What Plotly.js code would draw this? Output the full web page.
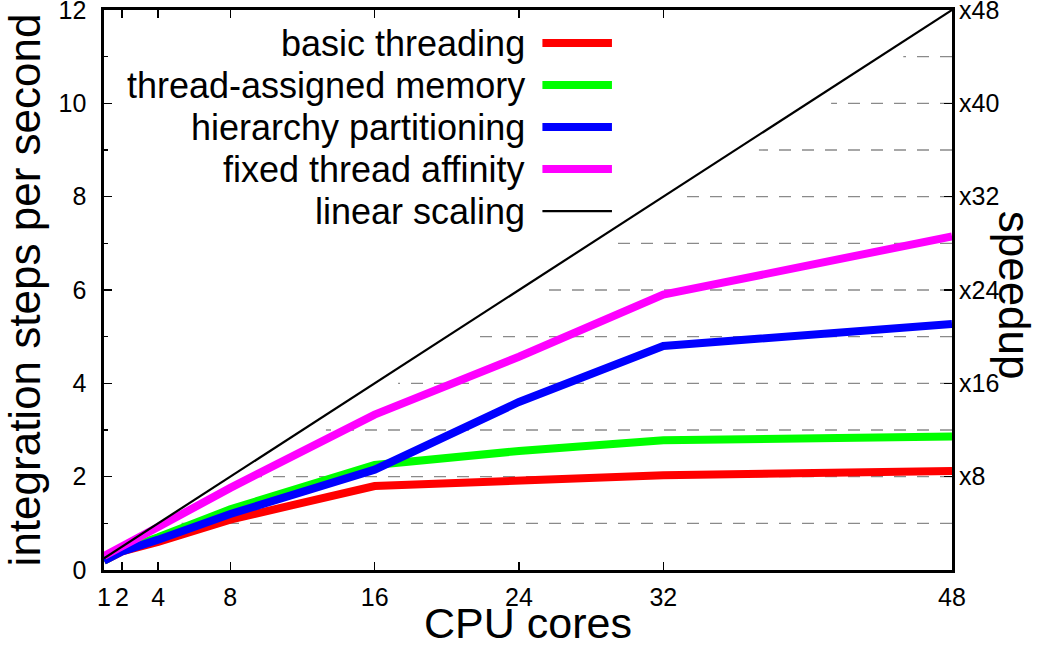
<!DOCTYPE html>
<html>
<head>
<meta charset="utf-8">
<script src="https://cdn.plot.ly/plotly-3.0.1.min.js"></script>
<style>
html,body{margin:0;padding:0;background:#fff;}
#chart{width:1050px;height:648px;}
</style>
</head>
<body>
<div id="chart"></div>
<script>
// ---- data ----
const cores = [1, 2, 4, 8, 16, 24, 32, 48];
const basicThreading = [0.2, 0.4, 0.6, 1.08, 1.8, 1.93, 2.03, 2.12];
const threadAssignedMemory = [0.2, 0.42, 0.7, 1.3, 2.25, 2.55, 2.78, 2.86];
const hierarchyPartitioning = [0.2, 0.4, 0.65, 1.2, 2.15, 3.6, 4.8, 5.27];
const fixedThreadAffinity = [0.3, 0.52, 0.92, 1.76, 3.33, 4.57, 5.9, 7.15];
const linearScaling = [0.25, 0.5, 1, 2, 4, 6, 8, 12];

const seriesNames = ["basic threading", "thread-assigned memory", "hierarchy partitioning", "fixed thread affinity", "linear scaling"];
const seriesColors = ["#ff0000", "#00ff00", "#0000ff", "#ff00ff", "#000000"];

const xTickVals = [1, 2, 4, 8, 16, 24, 32, 48];
const yTickVals = [0, 2, 4, 6, 8, 10, 12];
const speedupTickVals = [2, 4, 6, 8, 10, 12];
const speedupTickText = ["x8", "x16", "x24", "x32", "x40", "x48"];
const gridLevels = [1, 2, 3, 4, 5, 6, 7, 8, 9, 10, 11];

// ---- style ----
const FONT = "Liberation Sans, Arial, Helvetica, sans-serif";
const GRID_OFFSET = 1.3; // cores right of the linear-scaling line where dashes begin
const perCore = linearScaling[0] / cores[0];
const xMax = cores[cores.length - 1];

// dashed speedup guide lines, drawn right-to-left from the right axis to the linear line
const gx = [], gy = [];
gridLevels.forEach(l => {
  gx.push(xMax, l / perCore + GRID_OFFSET, null);
  gy.push(l, l, null);
});

const traces = [
  {x: gx, y: gy, mode: "lines", line: {color: "#8a8a8a", width: 1.4, dash: "12px,11px"}, hoverinfo: "skip", showlegend: false},
  {x: cores, y: basicThreading, name: seriesNames[0], mode: "lines", line: {color: seriesColors[0], width: 8}},
  {x: cores, y: threadAssignedMemory, name: seriesNames[1], mode: "lines", line: {color: seriesColors[1], width: 8}},
  {x: cores, y: hierarchyPartitioning, name: seriesNames[2], mode: "lines", line: {color: seriesColors[2], width: 8}},
  {x: cores, y: fixedThreadAffinity, name: seriesNames[3], mode: "lines", line: {color: seriesColors[3], width: 8}},
  {x: cores, y: linearScaling, name: seriesNames[4], mode: "lines", line: {color: seriesColors[4], width: 2.2}},
  {x: [], y: [], yaxis: "y2", showlegend: false, hoverinfo: "skip"}
];

// legend built as right-aligned text with sample lines to the right
const legendTop = 0.941, legendStep = 0.075;
const annotations = [];
const shapes = [];
seriesNames.forEach((n, i) => {
  const yy = legendTop - i * legendStep;
  annotations.push({xref: "paper", yref: "paper", x: 0.499, y: yy, xanchor: "right", yanchor: "middle",
    text: n, showarrow: false, font: {family: FONT, size: 36, color: "#000"}});
  shapes.push({type: "line", xref: "paper", yref: "paper", x0: 0.517, x1: 0.599, y0: yy, y1: yy,
    line: {color: seriesColors[i], width: i === 4 ? 2.2 : 8}});
});
annotations.push({xref: "paper", yref: "paper", x: 1.073, y: 0.49, xanchor: "center", yanchor: "middle",
  text: "speedup", textangle: 90, showarrow: false, font: {family: FONT, size: 44, color: "#000"}});
annotations.push({xref: "paper", yref: "paper", x: 0.5, y: -0.139, xanchor: "center", yanchor: "bottom",
  text: "CPU cores", showarrow: false, borderpad: 0, font: {family: FONT, size: 43, color: "#000"}});

const layout = {
  width: 1050, height: 648,
  margin: {l: 104, r: 98, t: 10, b: 78, pad: 0},
  paper_bgcolor: "#fff", plot_bgcolor: "#fff",
  showlegend: false,
  font: {family: FONT, color: "#000"},
  xaxis: {
    range: [1, 48], tickvals: xTickVals, ticks: "inside", ticklen: 8, tickwidth: 1.6, tickcolor: "#000",
    showline: true, linecolor: "#000", linewidth: 2.6, mirror: "ticks", showgrid: false, zeroline: false,
    tickfont: {family: FONT, size: 25}, ticklabelstandoff: 3, ticklabeloverflow: "allow"
  },
  yaxis: {
    range: [0, 12], tickvals: yTickVals, ticks: "inside", ticklen: 8, tickwidth: 1.6, tickcolor: "#000",
    minor: {dtick: 1, ticks: "inside", ticklen: 4, tickwidth: 1.2, tickcolor: "#000", showgrid: false},
    showline: true, linecolor: "#000", linewidth: 2.6, mirror: true, showgrid: false, zeroline: false,
    tickfont: {family: FONT, size: 25}, ticklabelstandoff: 10, ticklabeloverflow: "allow",
    title: {text: "integration steps per second", font: {family: FONT, size: 44}, standoff: 4}
  },
  yaxis2: {
    overlaying: "y", side: "right", range: [0, 12], tickvals: speedupTickVals, ticktext: speedupTickText,
    ticks: "inside", ticklen: 8, tickwidth: 1.6, tickcolor: "#000", showline: false, showgrid: false, zeroline: false,
    tickfont: {family: FONT, size: 25}, ticklabelstandoff: 6, ticklabeloverflow: "allow"
  },
  annotations: annotations,
  shapes: shapes
};

Plotly.newPlot("chart", traces, layout, {displayModeBar: false, staticPlot: true});
</script>
</body>
</html>
